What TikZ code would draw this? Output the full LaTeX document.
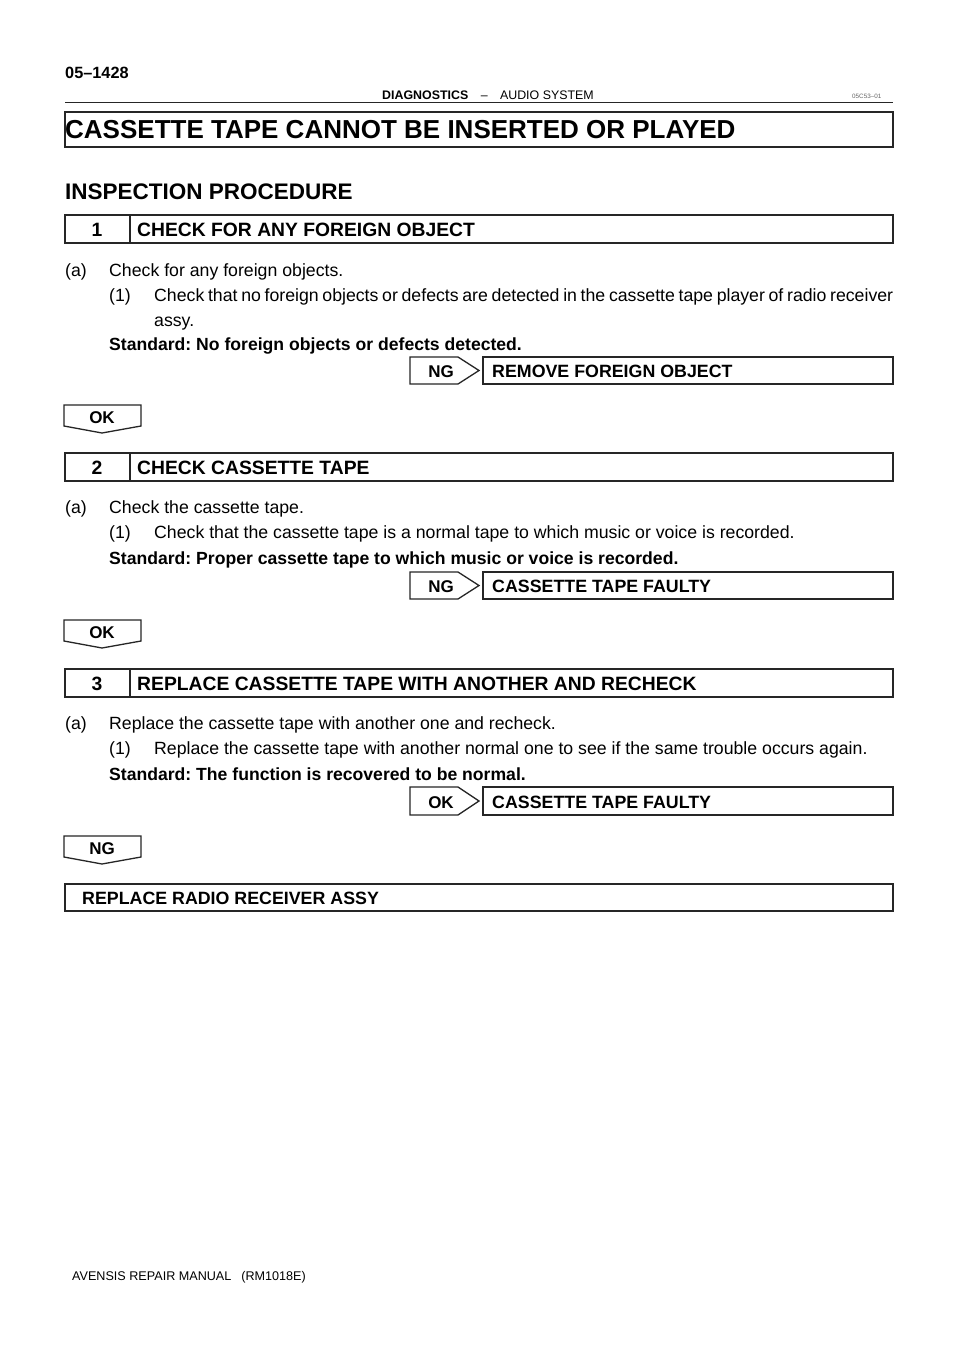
\documentclass[tikz,border=0pt]{standalone}
\usepackage{fontspec}
\setmainfont{Liberation Sans}
\begin{document}
\frenchspacing
\begin{tikzpicture}[x=1pt,y=-1pt,
  box/.style={draw=black!85,line width=1.3pt},
  body/.style={anchor=base west,inner sep=0pt,font=\fontsize{17.7}{21}\selectfont},
  bodyb/.style={anchor=base west,inner sep=0pt,font=\fontsize{17.6}{21}\selectfont\bfseries},
  stept/.style={anchor=base west,inner sep=0pt,font=\fontsize{19.3}{23}\selectfont\bfseries},
  stepn/.style={anchor=base,inner sep=0pt,font=\fontsize{19.3}{23}\selectfont\bfseries},
  tagt/.style={anchor=base,inner sep=0pt,font=\fontsize{17}{20}\selectfont\bfseries},
  rest/.style={anchor=base west,inner sep=0pt,font=\fontsize{17.8}{21}\selectfont\bfseries}]
\useasboundingbox (0,0) rectangle (960,1358);
\fill[white] (0,0) rectangle (960,1358);
% header
\node[anchor=base west,inner sep=0pt,font=\fontsize{16.3}{19}\selectfont\bfseries] (pg) at (65,78) {05--1428};
\node[anchor=base,inner sep=0pt,font=\fontsize{12.4}{15}\selectfont] (hd) at (488,99) {\textbf{DIAGNOSTICS}\quad --\quad AUDIO SYSTEM};
\node[anchor=base west,inner sep=0pt,font=\fontsize{6.3}{7}\selectfont,text=black!60] (code) at (852,98) {05C53--01};
\draw[line width=1.6pt,black!85] (65,102.5) -- (893,102.5);
% title
\draw[box] (65,112) rectangle (893,147);
\node[anchor=base west,inner sep=0pt,font=\fontsize{26}{30}\selectfont\bfseries] (title) at (65,138) {CASSETTE TAPE CANNOT BE INSERTED OR PLAYED};
\node[anchor=base west,inner sep=0pt,font=\fontsize{22.5}{26}\selectfont\bfseries] (ip) at (65,199) {INSPECTION PROCEDURE};
% step 1
\draw[box] (65,215) rectangle (893,243);
\draw[box] (130,215) -- (130,243);
\node[stepn] (n1) at (97,236) {1};
\node[stept] (s1) at (137,236) {CHECK FOR ANY FOREIGN OBJECT};
\node[body] (a1l) at (65,276) {(a)};
\node[body] (a1) at (109,276) {Check for any foreign objects.};
\node[body] (b1l) at (109,301) {(1)};
\node[body] (b1) at (154,301) {\spaceskip=3.9pt plus 2pt minus 1pt\hbox to 739pt{Check that no foreign objects or defects are detected in the cassette tape player of radio receiver}};
\node[body] (b1b) at (154,326) {assy.};
\node[bodyb] (st1) at (109,350) {Standard: No foreign objects or defects detected.};
\draw[box] (410,357) -- (458,357) -- (479,370.5) -- (458,384) -- (410,384) -- cycle;
\node[tagt] (ng1) at (441,377) {NG};
\draw[box] (483,357) rectangle (893,384);
\node[rest] (r1) at (492,377) {REMOVE FOREIGN OBJECT};
\draw[box] (64,405) -- (141,405) -- (141,426) -- (102,433) -- (64,426) -- cycle;
\node[tagt] (ok1) at (102,423) {OK};
% step 2
\draw[box] (65,453) rectangle (893,481);
\draw[box] (130,453) -- (130,481);
\node[stepn] (n2) at (97,474) {2};
\node[stept] (s2) at (137,474) {CHECK CASSETTE TAPE};
\node[body] (a2l) at (65,513) {(a)};
\node[body] (a2) at (109,513) {Check the cassette tape.};
\node[body] (b2l) at (109,538) {(1)};
\node[body] (b2) at (154,538) {Check that the cassette tape is a normal tape to which music or voice is recorded.};
\node[bodyb] (st2) at (109,564) {Standard: Proper cassette tape to which music or voice is recorded.};
\draw[box] (410,572) -- (458,572) -- (479,585.5) -- (458,599) -- (410,599) -- cycle;
\node[tagt] (ng2) at (441,592) {NG};
\draw[box] (483,572) rectangle (893,599);
\node[rest] (r2) at (492,592) {CASSETTE TAPE FAULTY};
\draw[box] (64,620) -- (141,620) -- (141,641) -- (102,648) -- (64,641) -- cycle;
\node[tagt] (ok2) at (102,638) {OK};
% step 3
\draw[box] (65,669) rectangle (893,697);
\draw[box] (130,669) -- (130,697);
\node[stepn] (n3) at (97,690) {3};
\node[stept] (s3) at (137,690) {REPLACE CASSETTE TAPE WITH ANOTHER AND RECHECK};
\node[body] (a3l) at (65,729) {(a)};
\node[body] (a3) at (109,729) {Replace the cassette tape with another one and recheck.};
\node[body] (b3l) at (109,754) {(1)};
\node[body] (b3) at (154,754) {Replace the cassette tape with another normal one to see if the same trouble occurs again.};
\node[bodyb] (st3) at (109,780) {Standard: The function is recovered to be normal.};
\draw[box] (410,787) -- (458,787) -- (479,801) -- (458,815) -- (410,815) -- cycle;
\node[tagt] (ok3) at (441,808) {OK};
\draw[box] (483,787) rectangle (893,815);
\node[rest] (r3) at (492,808) {CASSETTE TAPE FAULTY};
\draw[box] (64,836) -- (141,836) -- (141,857) -- (102,864) -- (64,857) -- cycle;
\node[tagt] (ng3) at (102,854) {NG};
% final
\draw[box] (65,884) rectangle (893,911);
\node[rest] (fin) at (82,904) {REPLACE RADIO RECEIVER ASSY};
% footer
\node[anchor=base west,inner sep=0pt,font=\fontsize{12.6}{15}\selectfont] (ft) at (72,1280) {AVENSIS REPAIR MANUAL\hspace{10pt}(RM1018E)};
\end{tikzpicture}
\end{document}
